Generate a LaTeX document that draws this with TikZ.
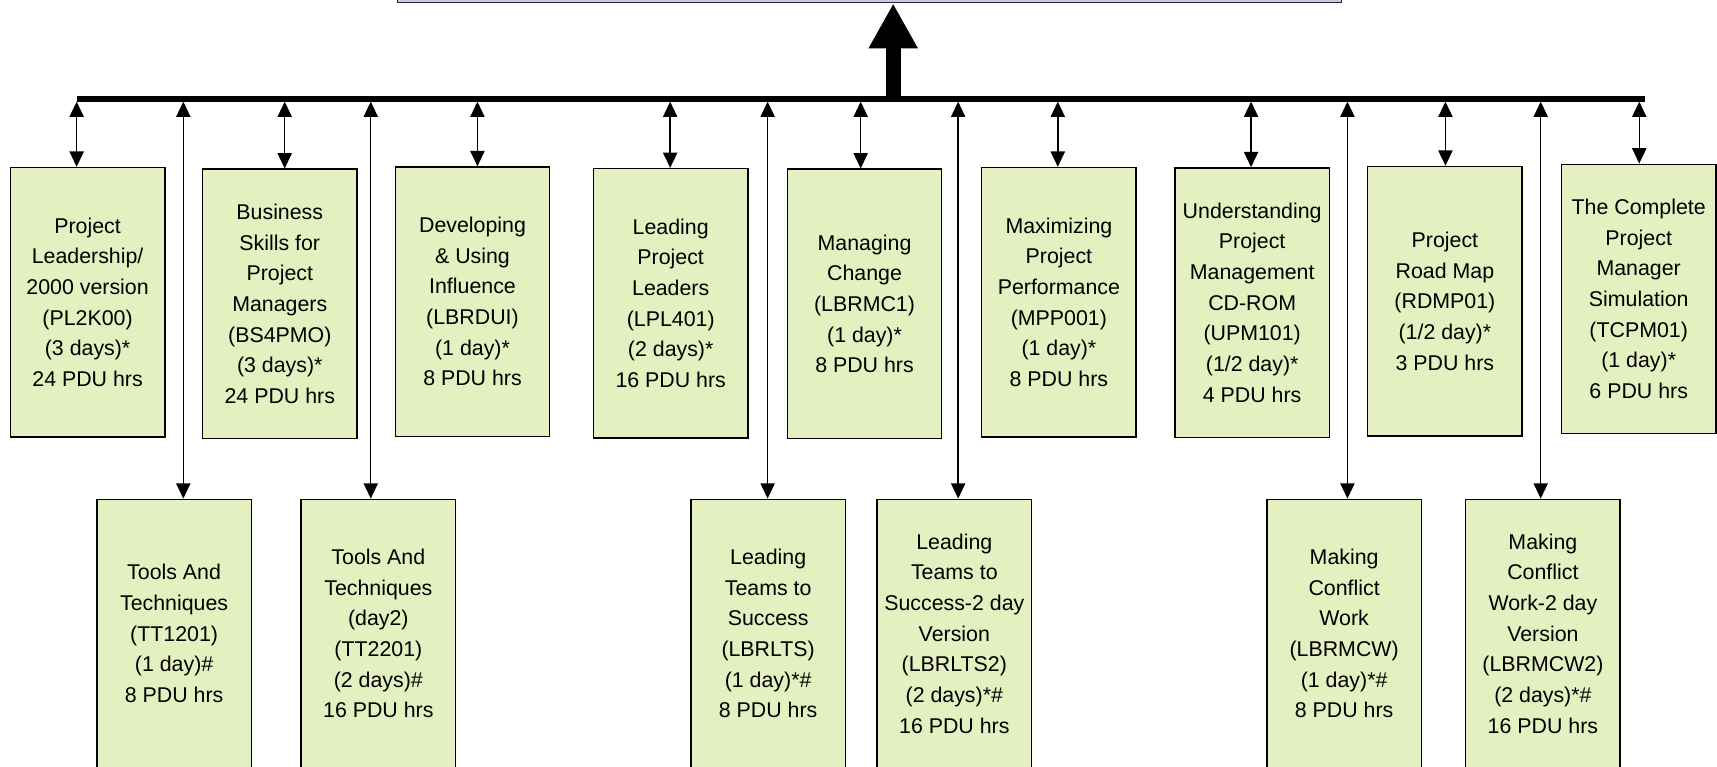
\documentclass[tikz,border=0pt]{standalone}
\usepackage{fontspec}
\setmainfont{Liberation Sans}
\usetikzlibrary{arrows.meta}
\definecolor{boxgreen}{RGB}{228,240,192}
\definecolor{topblue}{RGB}{200,200,226}
\begin{document}
\begin{tikzpicture}[x=1pt,y=-1pt,
  course/.style={draw=black, line width=1.3pt, fill=boxgreen, minimum width=141pt,
    minimum height=246pt, inner sep=0pt, align=center,
    font=\fontsize{19.5}{28}\selectfont},
  lowcourse/.style={course, minimum height=245pt},
  dbl/.style={line width=1.3pt,
    {Triangle[width=13pt,length=14pt]}-{Triangle[width=13pt,length=14pt]}}]
\clip (0,0) rectangle (1568,700);
% top box (cut off)
\node[draw=black!85, line width=1.3pt, fill=topblue, minimum width=862pt,
  minimum height=60pt, inner sep=0pt] (top) at (794,-27.5) {};
% bus
\coordinate (busL) at (70,90.4);
\coordinate (busR) at (1502.5,90.4);
\draw[line width=4.6pt] (busL) -- (busR);
\coordinate (hub) at (815.7,90.4);
\draw[line width=13.5pt, -{Triangle[width=42pt,length=41pt]}] (hub) -- (hub |- top.south);
% top row
\node[course] (b1) at (80,276) {Project\\Leadership/\\2000 version\\(PL2K00)\\(3 days)*\\24 PDU hrs};
\node[course] (b2) at (255.5,277.5) {Business\\Skills for\\Project\\Managers\\(BS4PMO)\\(3 days)*\\24 PDU hrs};
\node[course] (b3) at (431.5,275.5) {Developing\\\& Using\\Influence\\(LBRDUI)\\(1 day)*\\8 PDU hrs};
\node[course] (b4) at (612.5,277) {Leading\\Project\\Leaders\\(LPL401)\\(2 days)*\\16 PDU hrs};
\node[course] (b5) at (789.5,277.5) {Managing\\Change\\(LBRMC1)\\(1 day)*\\8 PDU hrs};
\node[course] (b6) at (967,276) {Maximizing\\Project\\Performance\\(MPP001)\\(1 day)*\\8 PDU hrs};
\node[course] (b7) at (1143.5,276.3) {Understanding\\Project\\Management\\CD-ROM\\(UPM101)\\(1/2 day)*\\4 PDU hrs};
\node[course] (b8) at (1319.5,275) {Project\\Road Map\\(RDMP01)\\(1/2 day)*\\3 PDU hrs};
\node[course] (b9) at (1496.5,273) {The Complete\\Project\\Manager\\Simulation\\(TCPM01)\\(1 day)*\\6 PDU hrs};
% bottom row
\node[lowcourse] (c1) at (159,578.5) {Tools And\\Techniques\\(TT1201)\\(1 day)\#\\8 PDU hrs};
\node[lowcourse] (c2) at (345.5,578.5) {Tools And\\Techniques\\(day2)\\(TT2201)\\(2 days)\#\\16 PDU hrs};
\node[lowcourse] (c3) at (701.5,578.5) {Leading\\Teams to\\Success\\(LBRLTS)\\(1 day)*\#\\8 PDU hrs};
\node[lowcourse] (c4) at (871.5,578.5) {Leading\\Teams to\\Success-2 day\\Version\\(LBRLTS2)\\(2 days)*\#\\16 PDU hrs};
\node[lowcourse] (c5) at (1227.5,578.5) {Making\\Conflict\\Work\\(LBRMCW)\\(1 day)*\#\\8 PDU hrs};
\node[lowcourse] (c6) at (1409,578.5) {Making\\Conflict\\Work-2 day\\Version\\(LBRMCW2)\\(2 days)*\#\\16 PDU hrs};
% short arrows
\coordinate (s1) at (70,92.8);
\coordinate (s2) at (260,92.8);
\coordinate (s3) at (436,92.8);
\coordinate (s4) at (612,92.8);
\coordinate (s5) at (786,92.8);
\coordinate (s6) at (966,92.8);
\coordinate (s7) at (1142.5,92.8);
\coordinate (s8) at (1320,92.8);
\coordinate (s9) at (1497,92.8);
\foreach \i in {1,...,9} {\draw[dbl] (s\i) -- (s\i |- b\i.north);}
% long arrows
\coordinate (l1) at (167.4,92.8);
\coordinate (l2) at (338.6,92.8);
\coordinate (l3) at (701,92.8);
\coordinate (l4) at (875,92.8);
\coordinate (l5) at (1230.5,92.8);
\coordinate (l6) at (1407,92.8);
\foreach \i in {1,...,6} {\draw[dbl] (l\i) -- (l\i |- c\i.north);}
\end{tikzpicture}
\end{document}
